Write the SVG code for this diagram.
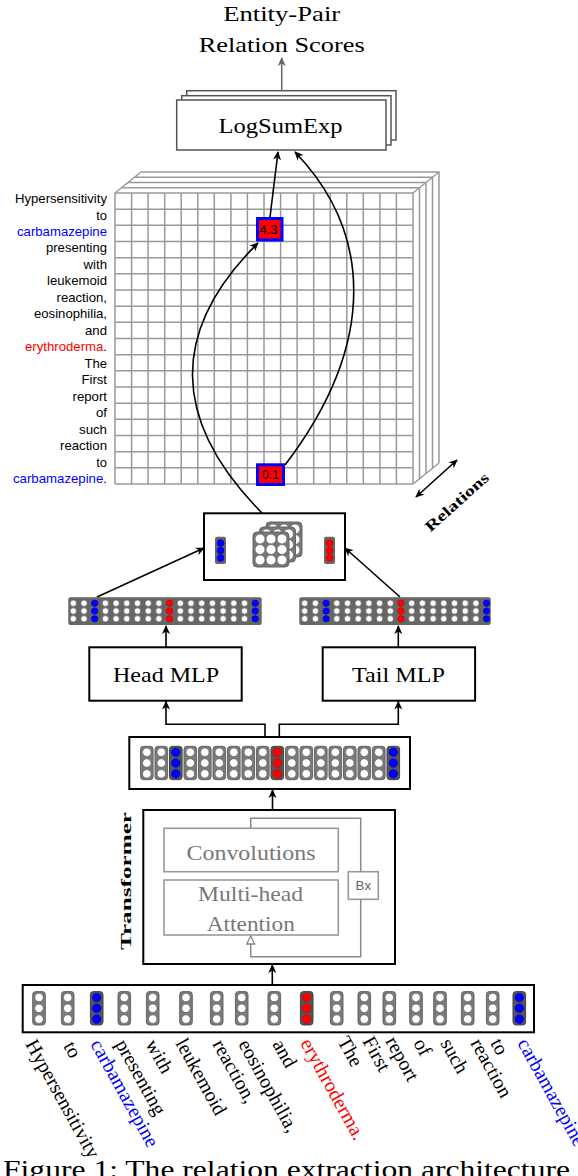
<svg xmlns="http://www.w3.org/2000/svg" width="578" height="1176" viewBox="0 0 578 1176">
<style>
.serif{font-family:"Liberation Serif","Times New Roman",serif;}
.sans{font-family:"Liberation Sans",Arial,sans-serif;}
.box{fill:#fff;stroke:#000;stroke-width:2;}
.lse{fill:#fff;stroke:#555;stroke-width:1.5;}
.gbox{fill:#fff;stroke:#999;stroke-width:1.6;}
.grid{fill:none;stroke:#999;stroke-width:1.5;}
.conn{fill:none;stroke:#000;stroke-width:1.6;}
.col{fill:#7a7a7a;stroke:#666;stroke-width:1;}
.colc{fill:#555;stroke:#444;stroke-width:1;}
.wc{fill:#fff;stroke:#666;stroke-width:0.8;}
.bc{fill:#00f;stroke:#00c;stroke-width:0.6;}
.rc{fill:#f00;stroke:#c00;stroke-width:0.6;}
.lbl{font-size:13px;text-anchor:end;fill:#000;}
.wl{font-size:20px;fill:#000;}
.big{font-size:22px;fill:#000;text-anchor:middle;}
</style>
<defs>
<marker id="ah" viewBox="0 0 10 10" refX="9" refY="5" markerWidth="9" markerHeight="9" markerUnits="userSpaceOnUse" orient="auto-start-reverse"><path d="M0,0.5 L10,5 L0,9.5 L3,5 Z" fill="#000"/></marker>
<marker id="ahg" viewBox="0 0 10 10" refX="9" refY="5" markerWidth="9" markerHeight="9" markerUnits="userSpaceOnUse" orient="auto"><path d="M0,0.5 L10,5 L0,9.5 L3,5 Z" fill="#666"/></marker>
<marker id="open" viewBox="0 0 10 10" refX="9" refY="5" markerWidth="10" markerHeight="10" markerUnits="userSpaceOnUse" orient="auto"><path d="M1,1 L9,5 L1,9 Z" fill="#fff" stroke="#888" stroke-width="1.3"/></marker>
<g id="c3">
<circle class="wc" cx="0" cy="-10.8" r="4.3"/><circle class="wc" cx="0" cy="0" r="4.3"/><circle class="wc" cx="0" cy="10.8" r="4.3"/>
</g>
<g id="c3b">
<circle class="bc" cx="0" cy="-10.8" r="4.3"/><circle class="bc" cx="0" cy="0" r="4.3"/><circle class="bc" cx="0" cy="10.8" r="4.3"/>
</g>
<g id="c3r">
<circle class="rc" cx="0" cy="-10.8" r="4.3"/><circle class="rc" cx="0" cy="0" r="4.3"/><circle class="rc" cx="0" cy="10.8" r="4.3"/>
</g>
<g id="colW"><rect class="col" x="-6.3" y="-16.7" width="12.6" height="33.4" rx="3"/><use href="#c3"/></g>
<g id="colB"><rect class="colc" x="-6.3" y="-16.7" width="12.6" height="33.4" rx="3"/><use href="#c3b"/></g>
<g id="colR"><rect class="colc" x="-6.3" y="-16.7" width="12.6" height="33.4" rx="3"/><use href="#c3r"/></g>
<g id="s3">
<circle class="wc" cx="0" cy="-7.8" r="3.2"/><circle class="wc" cx="0" cy="0" r="3.2"/><circle class="wc" cx="0" cy="7.8" r="3.2"/>
</g>
<g id="s3b">
<circle class="bc" cx="0" cy="-7.8" r="3.2"/><circle class="bc" cx="0" cy="0" r="3.2"/><circle class="bc" cx="0" cy="7.8" r="3.2"/>
</g>
<g id="s3r">
<circle class="rc" cx="0" cy="-7.8" r="3.2"/><circle class="rc" cx="0" cy="0" r="3.2"/><circle class="rc" cx="0" cy="7.8" r="3.2"/>
</g>
<g id="cube">
<rect x="0" y="0" width="36" height="35" rx="4" fill="#777" stroke="#666" stroke-width="1"/>
<g fill="#fff" stroke="#666" stroke-width="0.8">
<circle cx="7" cy="7" r="5"/><circle cx="18" cy="7" r="5"/><circle cx="29" cy="7" r="5"/>
<circle cx="7" cy="17.5" r="5"/><circle cx="18" cy="17.5" r="5"/><circle cx="29" cy="17.5" r="5"/>
<circle cx="7" cy="28" r="5"/><circle cx="18" cy="28" r="5"/><circle cx="29" cy="28" r="5"/>
</g>
</g>
</defs>

<!-- Title -->
<g id="title">
<text class="serif big" x="281.7" y="20.7" font-size="23" textLength="117" lengthAdjust="spacingAndGlyphs">Entity-Pair</text>
<text class="serif big" x="281.7" y="51.7" font-size="23" textLength="166" lengthAdjust="spacingAndGlyphs">Relation Scores</text>
</g>

<!-- LogSumExp stack -->
<g id="logsumexp">
<rect class="lse" x="186.7" y="90.7" width="209.3" height="49.3"/>
<rect class="lse" x="181.7" y="95.7" width="209.3" height="49.3"/>
<rect class="lse" x="176.7" y="100" width="209.3" height="50"/>
<text class="serif big" x="280.5" y="133.3" textLength="124" lengthAdjust="spacingAndGlyphs">LogSumExp</text>
</g>

<!-- Score tensor -->
<g id="tensor">
<path class="grid" d="M121.5,187.8H419.5V478.8 M128,182.5H426V473.5 M134.5,177.3H432.5V468.3 M141,172H439V463 M115,193L141,172 M413,193L439,172 M413,484L439,463"/>
<rect x="115" y="193" width="298" height="291" fill="#fff"/>
<path class="grid" d="M115,193V484 M131.6,193V484 M148.1,193V484 M164.7,193V484 M181.2,193V484 M197.8,193V484 M214.3,193V484 M230.9,193V484 M247.4,193V484 M264,193V484 M280.6,193V484 M297.1,193V484 M313.7,193V484 M330.2,193V484 M346.8,193V484 M363.3,193V484 M379.9,193V484 M396.4,193V484 M413,193V484
M115,193H413 M115,209.2H413 M115,225.3H413 M115,241.5H413 M115,257.7H413 M115,273.8H413 M115,290H413 M115,306.2H413 M115,322.3H413 M115,338.5H413 M115,354.7H413 M115,370.8H413 M115,387H413 M115,403.2H413 M115,419.3H413 M115,435.5H413 M115,451.7H413 M115,467.8H413 M115,484H413"/>
</g>

<g id="score43">
<rect x="257.5" y="218.5" width="24.5" height="21.5" fill="#f00" stroke="#00f" stroke-width="3"/>
<text class="sans" x="268.5" y="233.5" font-size="13" text-anchor="middle" textLength="18" lengthAdjust="spacingAndGlyphs">4.3</text>
</g>
<g id="score01">
<rect x="257.5" y="464.8" width="26" height="19.7" fill="#f00" stroke="#00f" stroke-width="3"/>
<text class="sans" x="270.5" y="478.5" font-size="13" text-anchor="middle" textLength="17" lengthAdjust="spacingAndGlyphs">0.1</text>
</g>

<!-- Row labels -->
<g id="rowlabels">
<text class="lbl sans" x="107" y="203" textLength="92" lengthAdjust="spacingAndGlyphs">Hypersensitivity</text>
<text class="lbl sans" x="107" y="219.5" textLength="10.8" lengthAdjust="spacingAndGlyphs">to</text>
<text class="lbl sans" x="107" y="235.9" style="fill:#00f" textLength="90" lengthAdjust="spacingAndGlyphs">carbamazepine</text>
<text class="lbl sans" x="107" y="252.4" textLength="61" lengthAdjust="spacingAndGlyphs">presenting</text>
<text class="lbl sans" x="107" y="268.9" textLength="23.5" lengthAdjust="spacingAndGlyphs">with</text>
<text class="lbl sans" x="107" y="285.4" textLength="60" lengthAdjust="spacingAndGlyphs">leukemoid</text>
<text class="lbl sans" x="107" y="301.8" textLength="50.5" lengthAdjust="spacingAndGlyphs">reaction,</text>
<text class="lbl sans" x="107" y="318.3" textLength="73" lengthAdjust="spacingAndGlyphs">eosinophilia,</text>
<text class="lbl sans" x="107" y="334.8" textLength="22" lengthAdjust="spacingAndGlyphs">and</text>
<text class="lbl sans" x="107" y="351.2" textLength="82" lengthAdjust="spacingAndGlyphs"><tspan fill="#f00">erythroderma</tspan>.</text>
<text class="lbl sans" x="107" y="367.7" textLength="22.5" lengthAdjust="spacingAndGlyphs">The</text>
<text class="lbl sans" x="107" y="384.2" textLength="25.5" lengthAdjust="spacingAndGlyphs">First</text>
<text class="lbl sans" x="107" y="400.6" textLength="34.5" lengthAdjust="spacingAndGlyphs">report</text>
<text class="lbl sans" x="107" y="417.1" textLength="11" lengthAdjust="spacingAndGlyphs">of</text>
<text class="lbl sans" x="107" y="433.6" textLength="28" lengthAdjust="spacingAndGlyphs">such</text>
<text class="lbl sans" x="107" y="450.1" textLength="47" lengthAdjust="spacingAndGlyphs">reaction</text>
<text class="lbl sans" x="107" y="466.5" textLength="10.8" lengthAdjust="spacingAndGlyphs">to</text>
<text class="lbl sans" x="107" y="483" textLength="94" lengthAdjust="spacingAndGlyphs"><tspan fill="#00f">carbamazepine</tspan>.</text>
</g>

<!-- Relations axis -->
<g id="relations">
<text class="serif" transform="translate(457,502) rotate(-42)" x="0" y="5" font-size="15" font-weight="bold" text-anchor="middle" textLength="80" lengthAdjust="spacingAndGlyphs">Relations</text>
</g>

<!-- Pair block -->
<g id="pairblock">
<rect class="box" x="204" y="513.3" width="141" height="66.7"/>
<rect x="215" y="536.7" width="11" height="27.3" rx="2" fill="#666"/>
<circle class="bc" cx="220.5" cy="543" r="3.5"/><circle class="bc" cx="220.5" cy="550.5" r="3.5"/><circle class="bc" cx="220.5" cy="558" r="3.5"/>
<rect x="324" y="536.7" width="11" height="27.3" rx="2" fill="#666"/>
<circle class="rc" cx="329.5" cy="543" r="3.5"/><circle class="rc" cx="329.5" cy="550.5" r="3.5"/><circle class="rc" cx="329.5" cy="558" r="3.5"/>
<use href="#cube" x="266" y="522"/>
<use href="#cube" x="259.5" y="527"/>
<use href="#cube" x="253" y="532"/>
</g>

<!-- Head output vector -->
<g id="headvec">
<rect x="68.3" y="597.3" width="193.4" height="27.7" rx="2" fill="#666"/>
<use href="#s3" x="73.3" y="611"/><use href="#s3" x="84" y="611"/><use href="#s3b" x="94.7" y="611"/><use href="#s3" x="105.4" y="611"/><use href="#s3" x="116.1" y="611"/><use href="#s3" x="126.8" y="611"/><use href="#s3" x="137.5" y="611"/><use href="#s3" x="148.2" y="611"/><use href="#s3" x="158.9" y="611"/><use href="#s3r" x="169.6" y="611"/><use href="#s3" x="180.3" y="611"/><use href="#s3" x="191" y="611"/><use href="#s3" x="201.7" y="611"/><use href="#s3" x="212.4" y="611"/><use href="#s3" x="223.1" y="611"/><use href="#s3" x="233.8" y="611"/><use href="#s3" x="244.5" y="611"/><use href="#s3b" x="255.2" y="611"/>
</g>

<!-- Tail output vector -->
<g id="tailvec">
<rect x="299.3" y="597.3" width="191.4" height="27.7" rx="2" fill="#666"/>
<use href="#s3" x="304.7" y="611"/><use href="#s3" x="315.4" y="611"/><use href="#s3b" x="326.1" y="611"/><use href="#s3" x="336.8" y="611"/><use href="#s3" x="347.5" y="611"/><use href="#s3" x="358.2" y="611"/><use href="#s3" x="368.9" y="611"/><use href="#s3" x="379.6" y="611"/><use href="#s3" x="390.3" y="611"/><use href="#s3r" x="401" y="611"/><use href="#s3" x="411.7" y="611"/><use href="#s3" x="422.4" y="611"/><use href="#s3" x="433.1" y="611"/><use href="#s3" x="443.8" y="611"/><use href="#s3" x="454.5" y="611"/><use href="#s3" x="465.2" y="611"/><use href="#s3" x="475.9" y="611"/><use href="#s3b" x="486.6" y="611"/>
</g>

<!-- MLPs -->
<g id="headmlp">
<rect class="box" x="89.3" y="647.3" width="152.4" height="53.4"/>
<text class="serif big" x="166" y="681.7" textLength="106" lengthAdjust="spacingAndGlyphs">Head MLP</text>
</g>
<g id="tailmlp">
<rect class="box" x="322.7" y="647.3" width="152.4" height="53.4"/>
<text class="serif big" x="398.5" y="681.7" textLength="93" lengthAdjust="spacingAndGlyphs">Tail MLP</text>
</g>

<!-- Contextual embeddings -->
<g id="embeddings">
<rect class="box" x="129.3" y="737" width="280.7" height="52"/>
<use href="#colW" x="146.8" y="763"/><use href="#colW" x="161.3" y="763"/><use href="#colB" x="175.8" y="763"/><use href="#colW" x="190.3" y="763"/><use href="#colW" x="204.8" y="763"/><use href="#colW" x="219.3" y="763"/><use href="#colW" x="233.8" y="763"/><use href="#colW" x="248.3" y="763"/><use href="#colW" x="262.8" y="763"/><use href="#colR" x="277.3" y="763"/><use href="#colW" x="291.8" y="763"/><use href="#colW" x="306.3" y="763"/><use href="#colW" x="320.8" y="763"/><use href="#colW" x="335.3" y="763"/><use href="#colW" x="349.8" y="763"/><use href="#colW" x="364.3" y="763"/><use href="#colW" x="378.8" y="763"/><use href="#colB" x="393.3" y="763"/>
</g>

<!-- Transformer -->
<g id="transformer">
<rect class="box" x="143.3" y="810" width="251.7" height="154"/>
<text class="serif" transform="translate(131,881) rotate(-90)" x="0" y="0" font-size="15" font-weight="bold" text-anchor="middle" textLength="138" lengthAdjust="spacingAndGlyphs">Transformer</text>
</g>
<g id="convolutions">
<rect class="gbox" x="164" y="828.3" width="174.3" height="43.4"/>
<text class="serif big" x="251" y="860" style="fill:#777" textLength="129" lengthAdjust="spacingAndGlyphs">Convolutions</text>
</g>
<g id="attention">
<rect class="gbox" x="164" y="880" width="174.3" height="55"/>
<text class="serif big" x="250.5" y="901" style="fill:#777" textLength="105" lengthAdjust="spacingAndGlyphs">Multi-head</text>
<text class="serif big" x="250.8" y="931" style="fill:#777" textLength="88" lengthAdjust="spacingAndGlyphs">Attention</text>
</g>
<g id="bx">
<rect class="gbox" x="348.3" y="871.7" width="30" height="27.6"/>
<text class="sans" x="363.3" y="890" font-size="13" fill="#666" text-anchor="middle" textLength="15.5" lengthAdjust="spacingAndGlyphs">Bx</text>
</g>

<!-- Input tokens -->
<g id="inputs">
<rect class="box" x="22.7" y="985" width="511.3" height="47.3"/>
<use href="#colW" x="39" y="1008.3"/><use href="#colW" x="67.7" y="1008.3"/><use href="#colB" x="96.7" y="1008.3"/><use href="#colW" x="124.3" y="1008.3"/><use href="#colW" x="152.7" y="1008.3"/><use href="#colW" x="186" y="1008.3"/><use href="#colW" x="216.7" y="1008.3"/><use href="#colW" x="241.7" y="1008.3"/><use href="#colW" x="274.3" y="1008.3"/><use href="#colR" x="306.7" y="1008.3"/><use href="#colW" x="336.7" y="1008.3"/><use href="#colW" x="364.3" y="1008.3"/><use href="#colW" x="389.3" y="1008.3"/><use href="#colW" x="416" y="1008.3"/><use href="#colW" x="440" y="1008.3"/><use href="#colW" x="467.7" y="1008.3"/><use href="#colW" x="492.7" y="1008.3"/><use href="#colB" x="519.3" y="1008.3"/>
</g>

<g id="wordlabels" class="serif">
<text class="wl" transform="translate(25,1044) rotate(61)">Hypersensitivity</text>
<text class="wl" transform="translate(63,1046) rotate(61)">to</text>
<text class="wl" transform="translate(90,1044) rotate(61)" style="fill:#00f">carbamazepine</text>
<text class="wl" transform="translate(115,1044) rotate(61)">presenting</text>
<text class="wl" transform="translate(145,1044) rotate(61)">with</text>
<text class="wl" transform="translate(175,1043) rotate(61)">leukemoid</text>
<text class="wl" transform="translate(212,1044) rotate(61)">reaction,</text>
<text class="wl" transform="translate(238,1044) rotate(61)">eosinophilia,</text>
<text class="wl" transform="translate(272,1044) rotate(61)">and</text>
<text class="wl" transform="translate(300,1043) rotate(61)" style="fill:#f00">erythroderma.</text>
<text class="wl" transform="translate(337,1041) rotate(61)">The</text>
<text class="wl" transform="translate(362,1041) rotate(61)">First</text>
<text class="wl" transform="translate(385,1041) rotate(61)">report</text>
<text class="wl" transform="translate(413,1043) rotate(61)">of</text>
<text class="wl" transform="translate(440,1043) rotate(61)">such</text>
<text class="wl" transform="translate(470,1043) rotate(61)">reaction</text>
<text class="wl" transform="translate(490,1043) rotate(61)">to</text>
<text class="wl" transform="translate(517,1043) rotate(61)" style="fill:#00f">carbamazepine</text>
</g>

<g id="caption">
<text class="serif" x="3" y="1178" font-size="26" fill="#000" textLength="567" lengthAdjust="spacingAndGlyphs">Figure 1: The relation extraction architecture</text>
</g>

<!-- Connectors -->
<g id="connectors">
<path d="M281.7,90.7V58" fill="none" stroke="#666" stroke-width="1.5" marker-end="url(#ahg)"/>
<path class="conn" d="M270,217L278,152" marker-end="url(#ah)"/>
<path class="conn" d="M262,513C170,420 170,330 258,243" marker-end="url(#ah)"/>
<path class="conn" d="M285,465C380,340 370,230 295,152" marker-end="url(#ah)"/>
<path class="conn" d="M97,597L204,548" marker-end="url(#ah)"/>
<path class="conn" d="M400,597L345,548" marker-end="url(#ah)"/>
<path class="conn" d="M166,647V626" marker-end="url(#ah)"/>
<path class="conn" d="M398.3,647V626" marker-end="url(#ah)"/>
<path class="conn" d="M265,737V724.3H166V701.5" marker-end="url(#ah)"/>
<path class="conn" d="M279.3,737V724.3H398.3V701.5" marker-end="url(#ah)"/>
<path class="conn" d="M272.5,810V790" marker-end="url(#ah)"/>
<path class="conn" d="M272.3,985V965" marker-end="url(#ah)"/>
<path class="conn" d="M416,497L457,460" marker-start="url(#ah)" marker-end="url(#ah)"/>
<path d="M250.7,828.3V818.3H360.7V871.7 M360.7,899.3V956.7H250.7V936" fill="none" stroke="#888" stroke-width="1.5" marker-end="url(#open)"/>
</g>
</svg>
